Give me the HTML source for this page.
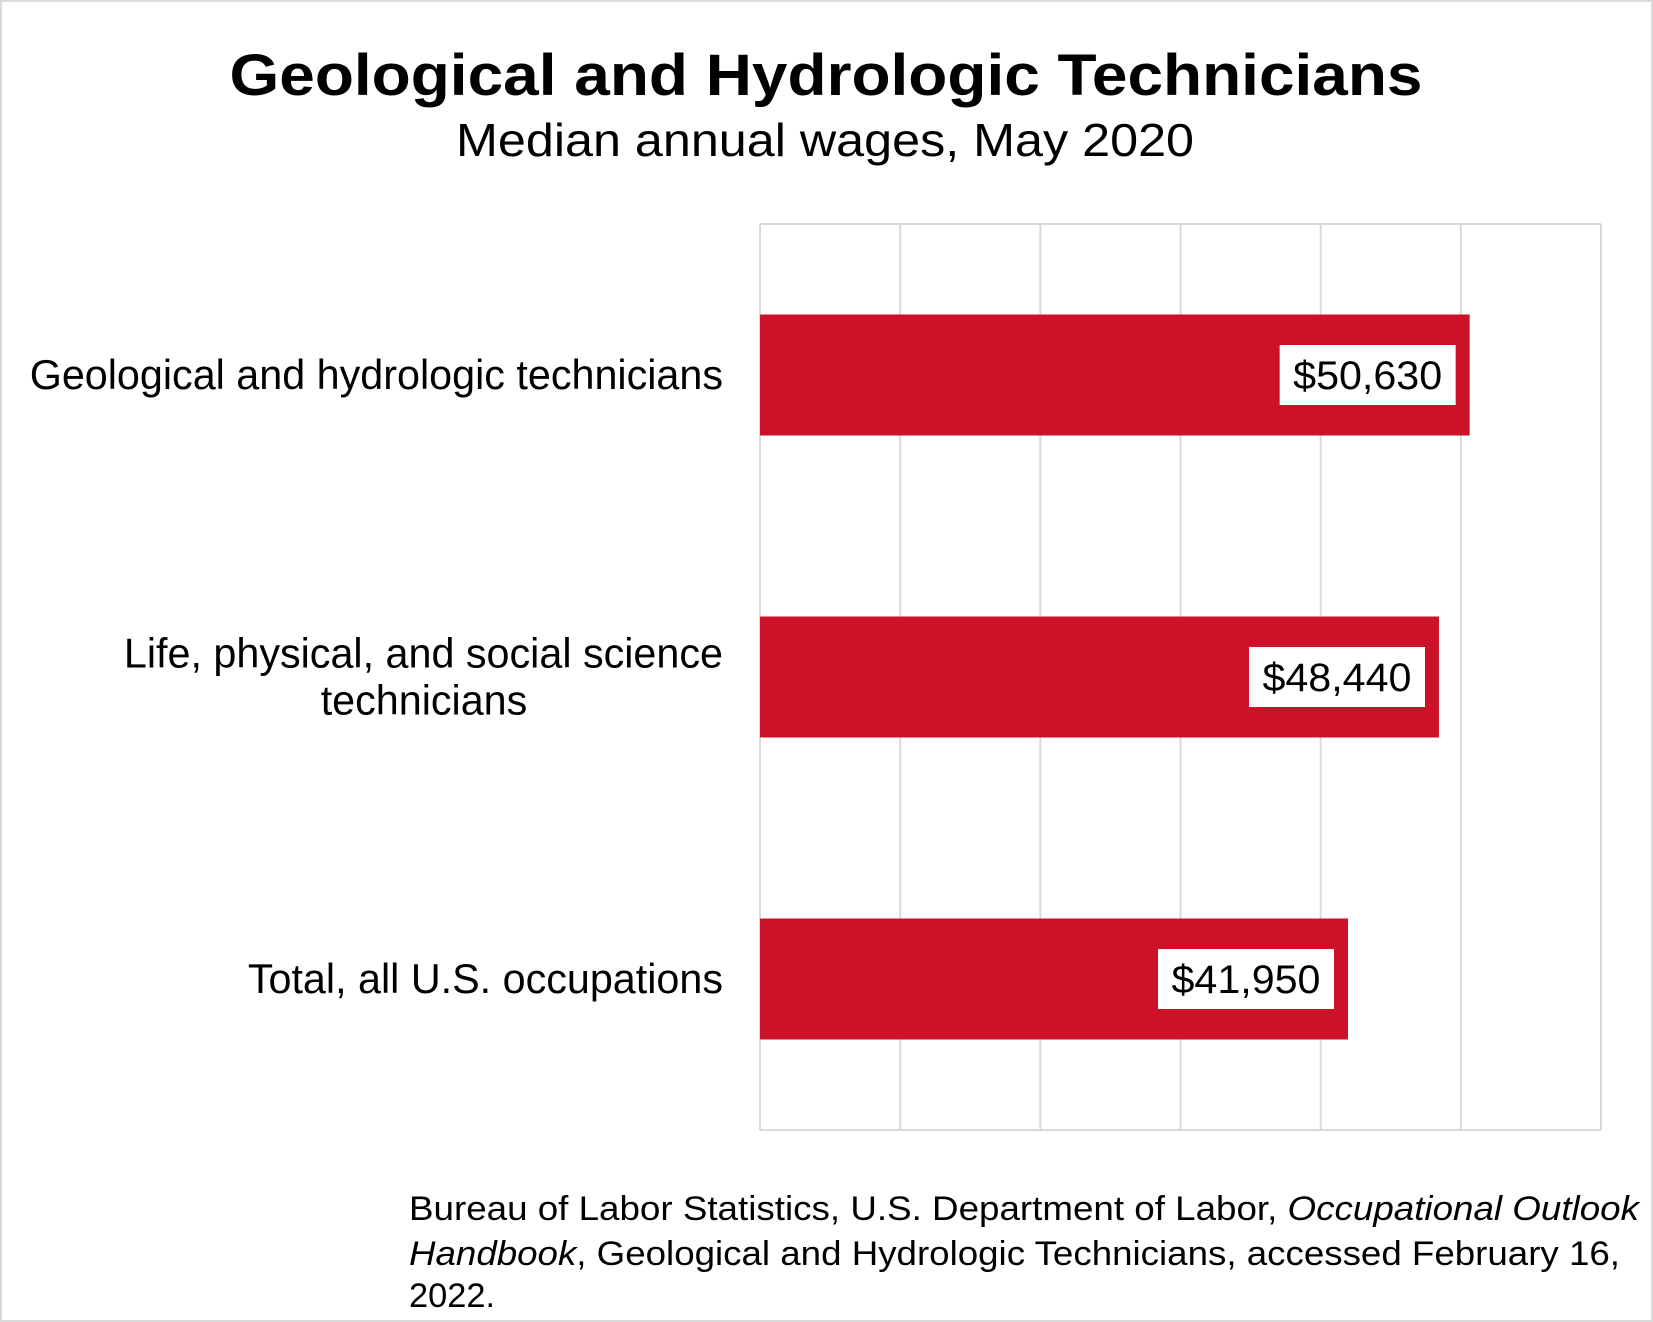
<!DOCTYPE html>
<html><head><meta charset="utf-8"><style>
html,body{margin:0;padding:0;background:#fff}
svg{display:block;font-family:"Liberation Sans",Arial,sans-serif}
</style></head><body>
<svg id="chart" width="1653" height="1322" viewBox="0 0 1653 1322">
<rect x="1" y="1" width="1651" height="1320" fill="#fff" stroke="#d9d9d9" stroke-width="2"/>
<text x="826" y="95" text-anchor="middle" font-size="58" font-weight="bold" textLength="1193" lengthAdjust="spacingAndGlyphs">Geological and Hydrologic Technicians</text>
<text x="825" y="156" text-anchor="middle" font-size="46" textLength="738" lengthAdjust="spacingAndGlyphs">Median annual wages, May 2020</text>
<g id="grid"></g>
<g id="bars"></g>
<g id="labels"></g>
<g font-size="34">
<text x="409" y="1220" textLength="1230" lengthAdjust="spacingAndGlyphs">Bureau of Labor Statistics, U.S. Department of Labor, <tspan font-style="italic">Occupational Outlook</tspan></text>
<text x="409" y="1265" textLength="1211" lengthAdjust="spacingAndGlyphs"><tspan font-style="italic">Handbook</tspan>, Geological and Hydrologic Technicians, accessed February 16,</text>
<text x="409" y="1307" textLength="86" lengthAdjust="spacingAndGlyphs">2022.</text>
</g>
</svg>
<script>
const categories = ["Geological and hydrologic technicians", "Life, physical, and social science technicians", "Total, all U.S. occupations"];
const categoryLines = [["Geological and hydrologic technicians"], ["Life, physical, and social science", "technicians"], ["Total, all U.S. occupations"]];
const values = [50630, 48440, 41950];
const valueLabels = ["$50,630", "$48,440", "$41,950"];
const xTicks = [0, 10000, 20000, 30000, 40000, 50000, 60000];

const NS = "http://www.w3.org/2000/svg";
const plotL = 760, plotR = 1601, plotT = 224, plotB = 1130;
const xMax = 60000;
const x = v => plotL + (v / xMax) * (plotR - plotL);
const band = (plotB - plotT) / categories.length;
const yCenter = i => plotT + band * (i + 0.5);
const barH = 121;
function mk(tag, attrs, parent) {
  const e = document.createElementNS(NS, tag);
  for (const k in attrs) e.setAttribute(k, attrs[k]);
  parent.appendChild(e);
  return e;
}
const grid = document.getElementById('grid');
xTicks.forEach(t => {
  const l = mk('line', {x1: x(t), x2: x(t), y1: plotT, y2: plotB, stroke: '#d9d9d9', 'stroke-width': 2}, grid);
  
  
});
const tb = mk('line', {x1: plotL, x2: plotR, y1: plotT, y2: plotT, stroke: '#d9d9d9', 'stroke-width': 2}, grid);


const bb = mk('line', {x1: plotL, x2: plotR, y1: plotB, y2: plotB, stroke: '#d9d9d9', 'stroke-width': 2}, grid);



const bars = document.getElementById('bars');
const labels = document.getElementById('labels');
values.forEach((v, i) => {
  const cy = yCenter(i);
  const r = mk('rect', {x: plotL, y: cy - barH / 2, width: x(v) - plotL, height: barH, fill: '#cc1229'}, bars);
  
  
  const bw = 176, bh = 60;
  const bx = x(v) - 14 - bw;
  const box = mk('rect', {x: bx, y: cy - bh / 2, width: bw, height: bh, fill: '#fff'}, bars);
  
  
  const t = mk('text', {x: bx + bw / 2, y: cy + 14, 'text-anchor': 'middle', 'font-size': 40, textLength: 149, lengthAdjust: 'spacingAndGlyphs'}, bars);
  t.textContent = valueLabels[i];
  
  

  const lines = categoryLines[i];
  const lh = 47;
  const startY = cy + 14 - (lines.length - 1) * lh / 2;
  const g = mk('g', {}, labels);
  
  
  lines.forEach((ln, j) => {
    const tt = mk('text', {x: 723, y: startY + j * lh, 'text-anchor': 'end', 'font-size': 41.3}, g);
    if (lines.length > 1 && j > 0) { tt.setAttribute('x', 424); tt.setAttribute('text-anchor', 'middle'); }
    tt.textContent = ln;
    
    
  });
});
</script>
</body></html>
